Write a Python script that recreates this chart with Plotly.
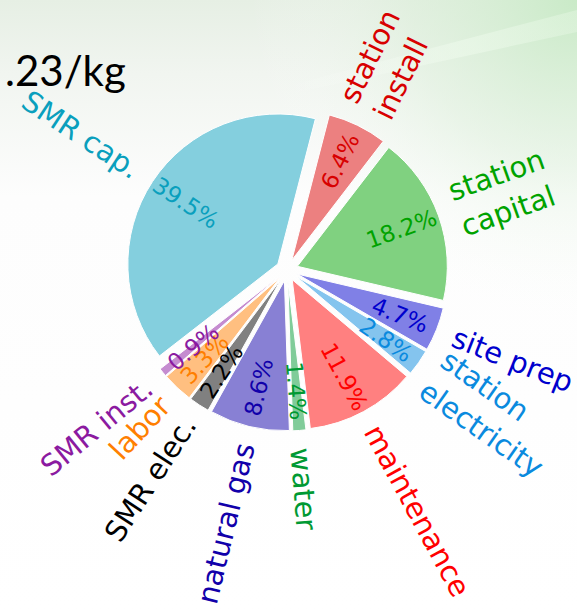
import math
import base64
import plotly.graph_objects as go

# ---------------- data ----------------
categories = ["station install", "station capital", "site prep", "station electricity",
              "maintenance", "water", "natural gas", "SMR elec.", "labor", "SMR inst.", "SMR cap."]
label_texts = ["station<br>install", "station<br>capital", "site prep", "station<br>electricity",
               "maintenance", "water", "natural gas", "SMR elec.", "labor", "SMR inst.", "SMR cap."]
shares = [6.4, 18.2, 4.7, 2.8, 11.9, 1.4, 8.6, 2.2, 3.3, 0.9, 39.5]
text_colors = ["#d80000", "#00a300", "#0000cd", "#0a8ade", "#ff0000", "#009933",
               "#1100aa", "#000000", "#ff7f00", "#8b1aa0", "#0a9fbd"]
title_text = ".23/kg"

# ---------------- layout constants ----------------
W, H = 577, 614
CX, CY = 287, 270          # pie centre in px (from top-left)
R = 150                    # pie radius in px
PULL = 0.073
ROT = 14.5                 # clockwise from 12 o'clock
LABEL_DIST = 1.12
PCT_DIST = 0.735
LABEL_SIZE = 29
PCT_SIZE = 23
FONT = "DejaVu Sans"

# DejaVu Sans advance widths (em)
CW = {' ': .318, '.': .318, 'a': .613, 'b': .635, 'c': .550, 'd': .635, 'e': .615, 'g': .635,
      'i': .278, 'l': .278, 'm': .974, 'n': .634, 'o': .612, 'p': .635, 'r': .411, 's': .521,
      't': .392, 'u': .634, 'w': .818, 'y': .592, 'S': .635, 'M': .863, 'R': .695, '%': .950}


def text_width(s, size):
    return sum(CW.get(ch, .636) for ch in s) * size


def blend(hex_color, a=0.5):
    h = hex_color.lstrip('#')
    r, g, b = (int(h[i:i + 2], 16) for i in (0, 2, 4))
    return "rgb(%d,%d,%d)" % tuple(round(c * a + 255 * (1 - a)) for c in (r, g, b))


slice_colors = [blend(c) for c in text_colors]

box = 2 * R * (1 + PULL)
dom_x = [(CX - box / 2) / W, (CX + box / 2) / W]
dom_y = [1 - (CY + box / 2) / H, 1 - (CY - box / 2) / H]

fig = go.Figure(go.Pie(
    labels=categories, values=shares, sort=False, direction="clockwise",
    rotation=ROT, pull=PULL, textinfo="none", hoverinfo="skip",
    marker=dict(colors=slice_colors, line=dict(color="white", width=1)),
    domain=dict(x=dom_x, y=dom_y), showlegend=False,
))

annotations = []
total = sum(shares)
acc = 0.0
for lab, v, col in zip(label_texts, shares, text_colors):
    mid_cw = ROT + 360 * (acc + v / 2) / total
    acc += v
    phi = math.radians(90 - mid_cw)
    ux, uy = math.cos(phi), math.sin(phi)
    deg = math.degrees(math.atan2(uy, ux))
    rot = deg if ux >= 0 else deg - 180
    while rot > 90:
        rot -= 180
    while rot <= -90:
        rot += 180

    # outer label: starts at the label distance and runs outward along the radius
    lines = lab.split("<br>")
    L = max(text_width(s, LABEL_SIZE) for s in lines)
    d = (PULL + LABEL_DIST) * R + L / 2
    annotations.append(dict(
        x=(CX + d * ux) / W, y=1 - (CY - d * uy) / H, xref="paper", yref="paper",
        text=lab, showarrow=False, textangle=-rot, xanchor="center", yanchor="middle",
        align="left" if ux > 0 else "right",
        font=dict(family=FONT, size=LABEL_SIZE, color=col)))

    # percentage inside the wedge
    d = (PULL + PCT_DIST) * R
    annotations.append(dict(
        x=(CX + d * ux) / W, y=1 - (CY - d * uy) / H, xref="paper", yref="paper",
        text="%.1f%%" % v, showarrow=False, textangle=-rot, xanchor="center", yanchor="middle",
        font=dict(family=FONT, size=PCT_SIZE, color=col)))

annotations.append(dict(
    x=3 / W, y=1 - 70 / H, xref="paper", yref="paper", text=title_text, showarrow=False,
    xanchor="left", yanchor="middle", font=dict(family="Lato", size=42, color="#000000")))

svg = f'''<svg xmlns="http://www.w3.org/2000/svg" width="{W}" height="{H}" viewBox="0 0 {W} {H}">
<defs>
<linearGradient id="v" x1="0" y1="0" x2="0" y2="1">
<stop offset="0" stop-color="#e6efe4"/>
<stop offset="0.12" stop-color="#f1f5f0"/>
<stop offset="0.32" stop-color="#fdfdfd"/>
<stop offset="1" stop-color="#ffffff"/>
</linearGradient>
<radialGradient id="g" cx="{W}" cy="0" r="330" gradientUnits="userSpaceOnUse">
<stop offset="0" stop-color="#c8eac6" stop-opacity="0.95"/>
<stop offset="0.5" stop-color="#d9efd7" stop-opacity="0.45"/>
<stop offset="1" stop-color="#ffffff" stop-opacity="0"/>
</radialGradient>
<linearGradient id="s" x1="0" y1="0" x2="1" y2="0">
<stop offset="0" stop-color="#ffffff" stop-opacity="0"/>
<stop offset="0.6" stop-color="#f2fdf0" stop-opacity="0.45"/>
<stop offset="1" stop-color="#f2fdf0" stop-opacity="0.3"/>
</linearGradient>
</defs>
<rect width="{W}" height="{H}" fill="url(#v)"/>
<rect width="{W}" height="{H}" fill="url(#g)"/>
<polygon points="280,88 577,10 577,32 280,96" fill="url(#s)"/>
</svg>'''
bg_src = "data:image/svg+xml;base64," + base64.b64encode(svg.encode()).decode()

fig.update_layout(
    width=W, height=H, margin=dict(l=0, r=0, t=0, b=0),
    paper_bgcolor="white", plot_bgcolor="rgba(0,0,0,0)",
    annotations=annotations,
    images=[dict(source=bg_src, xref="paper", yref="paper", x=0, y=1, sizex=1, sizey=1,
                 sizing="stretch", layer="below", xanchor="left", yanchor="top")],
)

fig.write_html("out.html", config={"displayModeBar": False},
               post_script="document.body.style.margin='0px';")
